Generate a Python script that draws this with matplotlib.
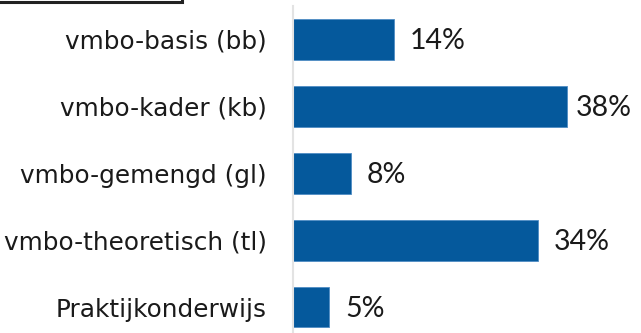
import matplotlib
matplotlib.use("Agg")
import matplotlib.pyplot as plt
from matplotlib.patches import Rectangle

categories = [
    "vmbo-basis (bb)",
    "vmbo-kader (kb)",
    "vmbo-gemengd (gl)",
    "vmbo-theoretisch (tl)",
    "Praktijkonderwijs",
]
shares = [14, 38, 8, 34, 5]
share_labels = ["14%", "38%", "8%", "34%", "5%"]

BAR_COLOR = "#05599c"
TEXT_COLOR = "#1a1a1a"
W, H, DPI = 641, 333, 100

fig = plt.figure(figsize=(W / DPI, H / DPI), dpi=DPI)
fig.patch.set_facecolor("white")

# axes box in pixels: left edge at 293, runs a little past the bottom
left, top, bottom, width = 293, 6, 340.5, 288
ax = fig.add_axes([left / W, (H - bottom) / H, width / W, (bottom - top) / H])

ypos = list(range(len(categories)))
ax.barh(ypos, shares, height=0.61, color=BAR_COLOR,
        edgecolor="#4f8cc4", linewidth=0.6)
ax.set_ylim(len(categories) - 0.5, -0.5)
ax.set_xlim(0, 40)

ax.set_yticks(ypos)
ax.set_yticklabels(categories, fontsize=17.8, color=TEXT_COLOR,
                   family="DejaVu Sans")
ax.tick_params(axis="y", length=0, pad=18.7)
ax.set_xticks([])

for side in ["top", "right", "bottom"]:
    ax.spines[side].set_visible(False)
ax.spines["left"].set_color("#e3e3e3")
ax.spines["left"].set_linewidth(1.5)

# value labels right of each bar, pulled back if they would run off the figure
fig.canvas.draw()
renderer = fig.canvas.get_renderer()
to_px = ax.transData
for y, v, lab in zip(ypos, shares, share_labels):
    x_end, y_mid = to_px.transform((v, y))
    t = fig.text(0, 0, lab, fontsize=20.5, family="Lato", color=TEXT_COLOR,
                 va="baseline", ha="left")
    tw = t.get_window_extent(renderer).width
    x_txt = min(x_end + 16, W - 9 - tw)
    t.set_position((x_txt / W, (y_mid - 9.5) / H))

# framed title box cut off at the top-left corner
fig.patches.append(Rectangle((-10 / W, 1 - 2 / H), 192 / W, 30 / H,
                             transform=fig.transFigure, fill=False,
                             edgecolor="#222222", linewidth=2.2))

fig.savefig("out.png", dpi=DPI)
